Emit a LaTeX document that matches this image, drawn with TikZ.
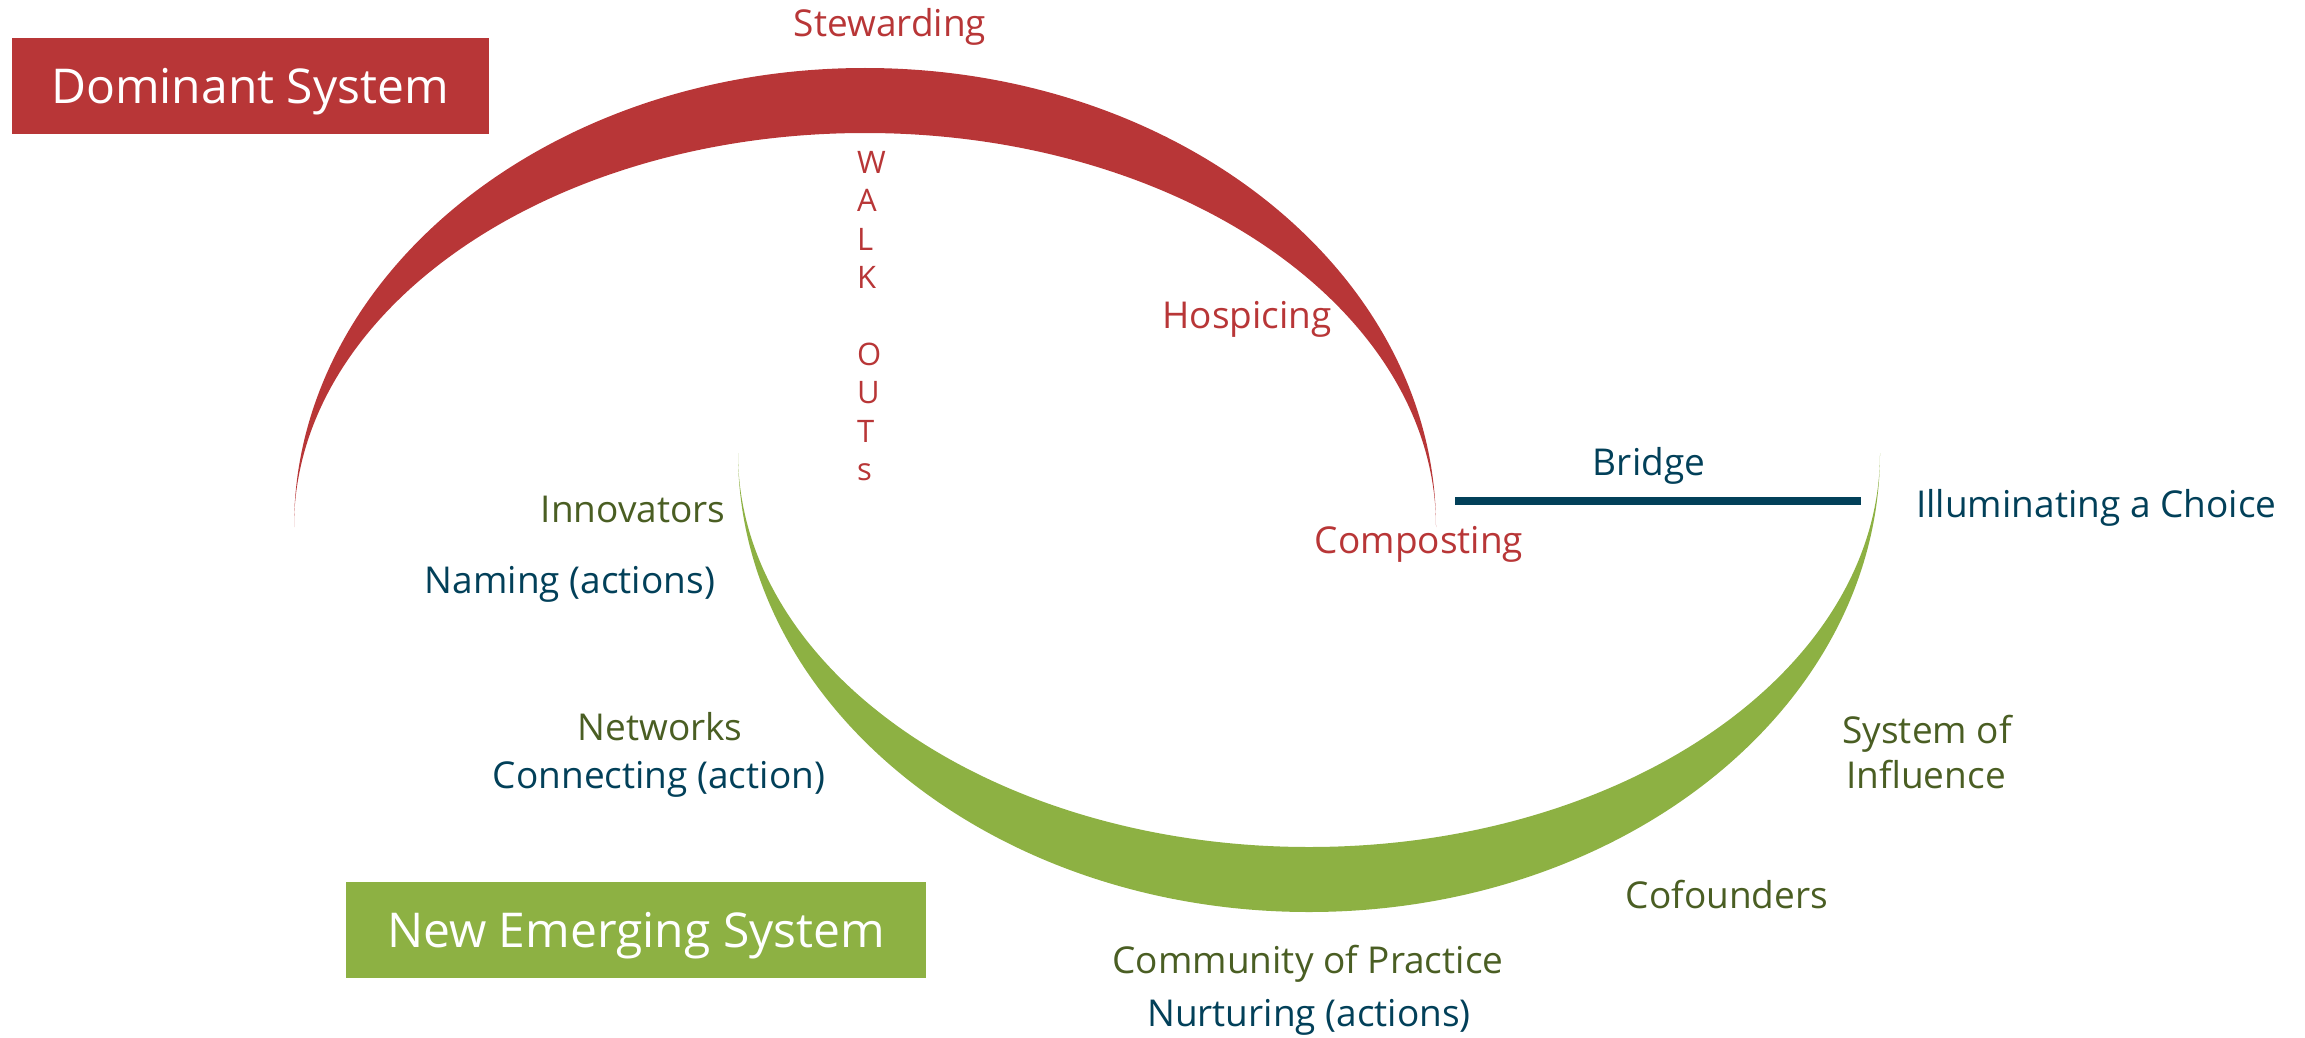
\documentclass[tikz,border=0pt]{standalone}
\usepackage{fontspec}
\setmainfont{Open Sans}
\definecolor{redc}{HTML}{B83637}
\definecolor{greenc}{HTML}{8DB143}
\definecolor{olivec}{HTML}{4A5E23}
\definecolor{tealc}{HTML}{024059}
\begin{document}
\begin{tikzpicture}[x=1pt,y=1pt,
  lbl/.style={inner sep=0pt, anchor=base, font=\fontsize{37}{44}\selectfont},
  redlbl/.style={lbl, text=redc},
  olivelbl/.style={lbl, text=olivec},
  teallbl/.style={lbl, text=tealc},
  sysbox/.style={inner sep=0pt, text=white, font=\fontsize{48}{56}\selectfont,
     text height=35pt, text depth=0pt},
  crescent/.style={draw=none}]
\useasboundingbox (0,0) rectangle (2305,-1038);
% crescents
\fill[redc] (294,-527) arc[start angle=180, end angle=0, x radius=571, y radius=459]
   arc[start angle=0, end angle=180, x radius=571, y radius=394] -- cycle;
\fill[greenc] (738,-453) arc[start angle=180, end angle=360, x radius=571, y radius=459]
   arc[start angle=360, end angle=180, x radius=571, y radius=394] -- cycle;
% bridge
\coordinate (bl) at (1455,-501);
\coordinate (br) at (1861,-501);
\draw[tealc, line width=8pt] (bl) -- (br);
% boxes
\node[sysbox, fill=redc, minimum width=477pt, minimum height=96pt] (dom) at (250,-86) {Dominant System};
\node[sysbox, fill=greenc, minimum width=580pt, minimum height=96pt] (new) at (636,-930) {New Emerging System};
% labels
\node[redlbl] (stew) at (890,-37) {Stewarding};
\node[redlbl] (hosp) at (1247,-328) {Hospicing};
\node[redlbl] (comp) at (1419,-553) {Composting};
\node[inner sep=0pt, anchor=north west, text=redc, align=left,
      font=\fontsize{31}{38.4}\selectfont] (walk) at (857,-151)
      {W\\A\\L\\K\\~\\O\\U\\T\\s};
\node[teallbl] (bridge) at (1649,-475) {Bridge};
\node[teallbl, anchor=base west] (illum) at (1916,-517) {Illuminating a Choice};
\node[olivelbl] (innov) at (633,-522) {Innovators};
\node[teallbl] (naming) at (570,-593) {Naming (actions)};
\node[olivelbl] (netw) at (660,-740) {Networks};
\node[teallbl] (conn) at (659,-788) {Connecting (action)};
\node[olivelbl] (sys1) at (1927,-743) {System of};
\node[olivelbl] (sys2) at (1926,-788) {Influence};
\node[olivelbl] (cof) at (1727,-908) {Cofounders};
\node[olivelbl] (comm) at (1308,-973) {Community of Practice};
\node[teallbl] (nurt) at (1309,-1026) {Nurturing (actions)};
\end{tikzpicture}
\end{document}
